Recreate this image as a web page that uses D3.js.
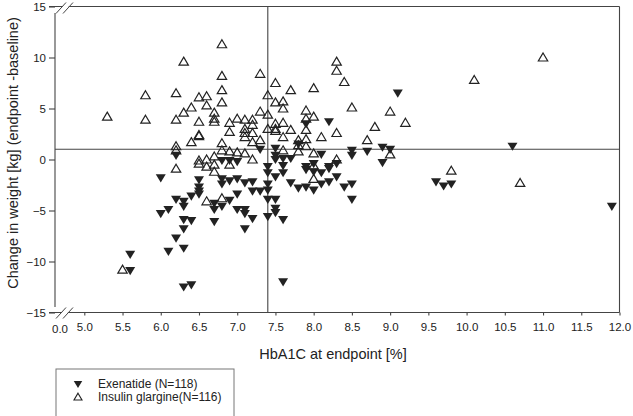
<!DOCTYPE html>
<html><head><meta charset="utf-8">
<script src="https://cdn.jsdelivr.net/npm/d3@7/dist/d3.min.js"></script>
<style>
html,body{margin:0;padding:0;background:#fff;}
svg{display:block;font-family:"Liberation Sans",Arial,Helvetica,sans-serif;}
</style></head>
<body>
<svg id="chart" width="633" height="416"></svg>
<script>
// ---- data ----
const xTicks = [5.0,5.5,6.0,6.5,7.0,7.5,8.0,8.5,9.0,9.5,10.0,10.5,11.0,11.5,12.0];
const yTicks = [-15,-10,-5,0,5,10,15];
const refX = 7.4;   // vertical reference line
const refY = 1;     // horizontal reference line
const seriesNames = ["Exenatide (N=118)", "Insulin glargine(N=116)"];

// Exenatide: [HbA1c, weight change]
const exenatide = [
[5.6,-9.3],[5.6,-10.9],
[6.2,0.4],[7.3,1.0],[7.5,1.1],[7.5,0.4],[7.5,0.0],[7.6,0.1],[7.7,0.1],[6.8,-0.1],[6.9,-0.1],[7.0,-0.2],
[8.1,0.5],[8.0,-0.4],[8.3,-0.4],[8.2,-0.7],[7.6,-0.6],[7.9,-0.7],[7.6,-1.3],[7.9,-1.0],[8.0,-1.2],[8.1,-1.3],
[8.2,-0.9],[8.3,-1.7],[7.4,-1.3],[7.5,-1.7],[6.0,-1.8],[6.5,-2.0],[6.5,-2.7],[6.5,-3.1],[6.5,-3.4],[6.8,-1.9],
[6.8,-2.4],[6.9,-2.1],[7.0,-1.9],[7.1,-2.3],[7.2,-2.2],[7.2,-3.1],[7.3,-3.1],[7.4,-2.4],[7.4,-3.0],[7.7,-2.3],
[7.8,-2.8],[7.9,-2.7],[8.0,-3.0],[8.1,-2.4],[8.2,-2.2],[8.4,-2.7],[8.5,-3.9],[7.0,-3.4],[6.2,-3.9],[6.3,-4.1],
[6.3,-4.6],[6.4,-3.6],[6.7,-4.3],[6.7,-4.9],[6.8,-4.6],[6.9,-4.0],[7.0,-4.9],[7.1,-4.9],[7.1,-5.3],[7.2,-5.8],
[7.4,-3.9],[7.5,-3.9],[7.5,-4.8],[7.5,-5.2],[7.4,-5.6],[7.6,-5.9],[6.0,-5.3],[6.1,-4.9],[6.3,-5.9],[6.4,-6.0],
[6.7,-6.1],[6.3,-6.8],[7.1,-6.8],[6.2,-7.7],[6.1,-9.0],[6.3,-8.7],[6.3,-12.5],[6.4,-12.3],[7.6,-12.0],
[8.2,3.7],[7.9,3.5],[9.1,6.5],[7.8,1.5],[8.5,0.9],[8.5,0.4],[8.7,0.8],[8.9,1.2],[9.0,1.0],[8.9,-0.3],
[8.5,-2.4],[9.6,-2.2],[9.7,-2.6],[9.8,-2.4],[10.6,1.3],[11.9,-4.6],[7.4,-0.7]
];

// Insulin glargine: [HbA1c, weight change]
const glargine = [
[5.3,4.2],[5.8,6.3],[5.8,3.9],[5.5,-10.8],
[6.8,11.3],[6.3,9.6],[7.3,8.4],[6.8,8.2],[7.5,7.5],[6.2,6.5],[6.8,6.8],[7.4,6.3],[7.7,6.8],[6.5,6.1],[6.6,6.2],
[6.4,5.1],[6.3,4.6],[6.6,5.3],[6.8,5.6],[7.5,5.6],[7.6,5.7],[7.6,5.0],[6.2,3.9],[6.5,3.7],[6.7,4.6],[6.7,3.7],
[6.7,4.0],[6.9,3.6],[7.0,4.0],[7.1,3.9],[7.2,3.9],[7.2,3.4],[7.3,4.7],[7.4,4.4],[7.5,3.5],[7.5,3.0],[7.5,2.8],
[7.6,3.6],[7.9,4.8],[8.0,4.2],[7.9,4.0],[7.9,2.9],[8.3,2.6],[7.7,2.9],[7.6,2.2],[7.4,3.0],[7.1,3.0],[7.1,2.6],
[7.2,2.6],[6.9,2.7],[6.5,2.4],[6.5,2.3],[6.4,1.7],[6.8,1.6],[7.2,1.7],[7.3,1.9],[7.8,1.9],[7.9,2.0],[8.1,2.2],
[7.8,1.4],[7.9,1.3],[7.6,0.9],[6.2,1.3],[6.2,0.9],[6.8,0.9],[6.9,0.8],[7.0,0.7],[7.1,0.6],[6.7,0.3],[6.6,0.0],
[6.5,-0.1],[7.2,0.0],[7.8,0.8],[8.0,0.6],[8.0,-0.6],[8.3,0.0],[6.7,-0.5],[6.9,-0.5],[6.2,-0.9],[6.6,-0.7],
[6.5,-0.4],[8.0,-1.9],[6.6,-4.1],[6.8,-3.8],[6.7,-1.2],[7.1,2.2],
[8.3,9.6],[8.3,8.7],[8.4,7.6],[8.0,7.0],[10.1,7.8],[8.5,5.1],[9.0,4.7],[9.2,3.6],[8.8,3.2],[8.7,1.9],
[9.0,0.5],[9.8,-1.1],[11.0,10.0],[10.7,-2.3]
];

// ---- chart ----
const svg = d3.select("#chart");
const LINE = "#444", TEXT = "#222";
const x = d3.scaleLinear().domain([5,12]).range([84.3,619.5]);
const y = d3.scaleLinear().domain([-15,15]).range([312.5,6.5]);
const xLeft = 55;

const down = "M-5,-3.6L5,-3.6L0,4.6Z";
const up = "M0,-4.5L4.7,3.5L-4.7,3.5Z";

// frame
const g = svg.append("g").attr("stroke", LINE).attr("stroke-width", 1.1).attr("fill","none");
g.append("line").attr("x1", 49).attr("x2", x(12)).attr("y1", y(15)).attr("y2", y(15));
g.append("line").attr("x1", x(12)).attr("x2", x(12)).attr("y1", y(15)).attr("y2", y(-15));
g.append("line").attr("x1", 49).attr("x2", x(12)).attr("y1", y(-15)).attr("y2", y(-15));
g.append("line").attr("x1", xLeft).attr("x2", xLeft).attr("y1", 13).attr("y2", 307);

// axis break marks
function brk(cy){
  svg.append("polygon").attr("points", `${57},${cy+6} ${66},${cy-5} ${72},${cy-5} ${63},${cy+6}`)
     .attr("fill","#fff");
  svg.append("line").attr("x1",56).attr("y1",cy+6).attr("x2",66).attr("y2",cy-5).attr("stroke",LINE).attr("stroke-width",1);
  svg.append("line").attr("x1",63).attr("y1",cy+6).attr("x2",73).attr("y2",cy-5).attr("stroke",LINE).attr("stroke-width",1);
}
brk(y(15)+1);
brk(y(-15));

// reference lines
svg.append("line").attr("x1", x(refX)).attr("x2", x(refX)).attr("y1", y(15)).attr("y2", y(-15))
   .attr("stroke", LINE).attr("stroke-width", 1.1);
svg.append("line").attr("x1", xLeft).attr("x2", x(12)).attr("y1", y(refY)).attr("y2", y(refY))
   .attr("stroke", LINE).attr("stroke-width", 1.1);

// axes
const ya = svg.append("g").attr("transform", `translate(${xLeft},0)`)
  .call(d3.axisLeft(y).tickValues(yTicks).tickSize(6).tickPadding(3).tickFormat(d3.format("d")));
ya.select(".domain").remove();
const xa = svg.append("g").attr("transform", `translate(0,${y(-15)})`)
  .call(d3.axisBottom(x).tickValues(xTicks).tickSize(3).tickPadding(7).tickFormat(d3.format(".1f")));
xa.select(".domain").remove();
svg.selectAll(".tick line").attr("stroke", LINE).attr("stroke-width", 1.1);
svg.selectAll(".tick text").attr("fill", TEXT).style("font-size","11.5px").style("font-family","Liberation Sans, Arial, sans-serif");
svg.append("text").attr("x", 60).attr("y", y(-15)+20.5).attr("text-anchor","middle")
  .attr("fill", TEXT).style("font-size","11.5px").text("0.0");

// points
svg.append("g").selectAll("path").data(exenatide).join("path")
  .attr("d", down).attr("transform", d => `translate(${x(d[0])},${y(d[1])})`)
  .attr("fill", "#222");
svg.append("g").selectAll("path").data(glargine).join("path")
  .attr("d", up).attr("transform", d => `translate(${x(d[0])},${y(d[1])})`)
  .attr("fill", "none").attr("stroke", "#222").attr("stroke-width", 1.2);

// titles
svg.append("text").attr("x", 333).attr("y", 359).attr("text-anchor","middle")
  .attr("fill", TEXT).style("font-size","14.5px").text("HbA1C at endpoint [%]");
svg.append("text").attr("transform","translate(18,153) rotate(-90)").attr("text-anchor","middle")
  .attr("fill", TEXT).style("font-size","14.5px").text("Change in weight [kg] (endpoint -baseline)");

// legend
const lg = svg.append("g");
lg.append("rect").attr("x", 56).attr("y", 369).attr("width", 178).attr("height", 60)
  .attr("fill","none").attr("stroke","#777").attr("stroke-width",1);
const items = [{name: seriesNames[0], d: down, fill:"#222", stroke:"none"},
               {name: seriesNames[1], d: up, fill:"none", stroke:"#222"}];
items.forEach((it,i) => {
  const cy = 384 + i*13;
  lg.append("path").attr("d", it.d).attr("transform", `translate(78,${cy}) scale(0.85)`)
    .attr("fill", it.fill).attr("stroke", it.stroke).attr("stroke-width", 1.3);
  lg.append("text").attr("x", 98).attr("y", cy+4).attr("fill", TEXT)
    .style("font-size","12px").text(it.name);
});
</script>
</body></html>
